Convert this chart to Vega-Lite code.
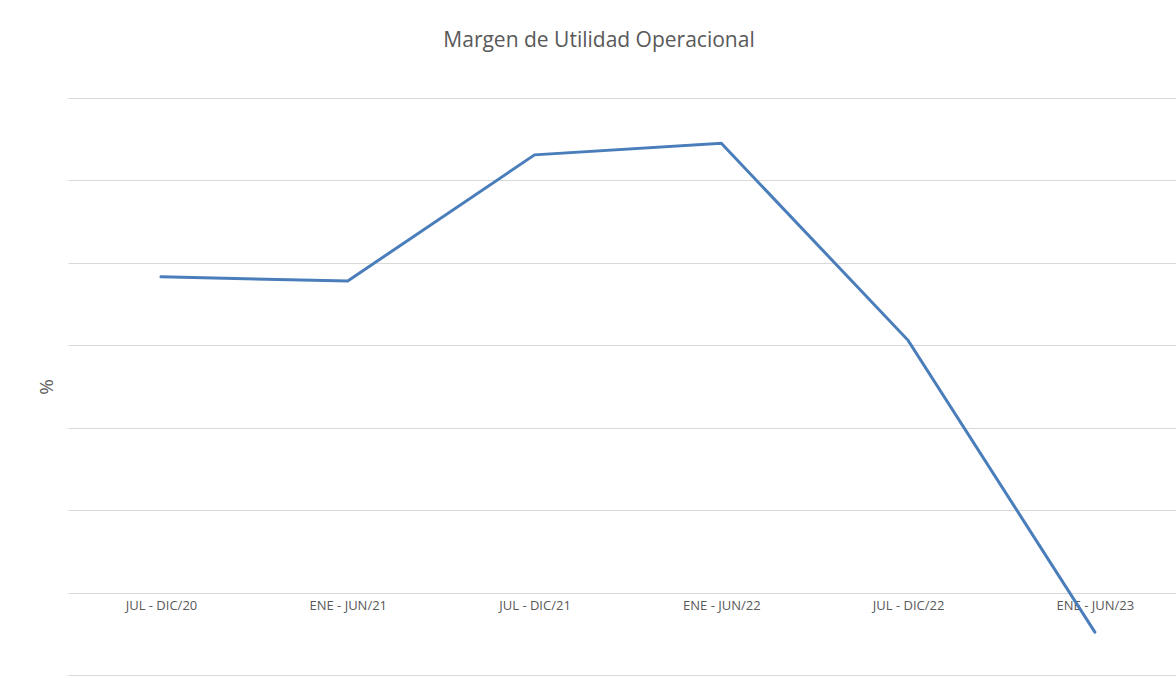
{
  "$schema": "https://vega.github.io/schema/vega-lite/v6.json",
  "autosize": {"type": "none"},
  "width": 1108,
  "height": 577,
  "padding": {"left": 68, "top": 98, "right": 0, "bottom": 3},
  "background": "white",
  "title": {
    "text": "Margen de Utilidad Operacional",
    "anchor": "middle",
    "frame": "group",
    "dx": -23,
    "offset": 47,
    "font": "Open Sans",
    "fontSize": 21,
    "fontWeight": "normal",
    "color": "#595959"
  },
  "data": {
    "values": [
      {"periodo": "JUL - DIC/20", "margen": 3.83},
      {"periodo": "ENE - JUN/21", "margen": 3.78},
      {"periodo": "JUL - DIC/21", "margen": 5.31},
      {"periodo": "ENE - JUN/22", "margen": 5.45},
      {"periodo": "JUL - DIC/22", "margen": 3.06},
      {"periodo": "ENE - JUN/23", "margen": -0.48}
    ]
  },
  "mark": {"type": "line", "color": "#4a7ebb", "strokeWidth": 3, "strokeJoin": "miter", "strokeCap": "round"},
  "encoding": {
    "x": {
      "field": "periodo",
      "type": "ordinal",
      "sort": null,
      "scale": {"type": "point", "padding": 0.466, "align": 0.534},
      "axis": {
        "title": null,
        "orient": "bottom",
        "offset": -83,
        "domain": false,
        "ticks": false,
        "grid": false,
        "labelAngle": 0,
        "labelPadding": 7,
        "labelFont": "Open Sans",
        "labelFontSize": 13,
        "labelColor": "#595959"
      }
    },
    "y": {
      "field": "margen",
      "type": "quantitative",
      "scale": {"domain": [-1, 6], "nice": false, "zero": false},
      "axis": {
        "title": "%",
        "titleFont": "Open Sans",
        "titleFontSize": 19,
        "titleFontWeight": "normal",
        "titleColor": "#595959",
        "titlePadding": 12,
        "values": [-1, 0, 1, 2, 3, 4, 5, 6],
        "labels": false,
        "ticks": false,
        "domain": false,
        "grid": true,
        "gridColor": "#d9d9d9",
        "gridWidth": 1
      }
    }
  },
  "config": {
    "view": {"stroke": null}
  }
}
